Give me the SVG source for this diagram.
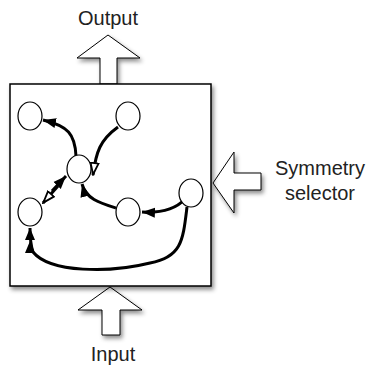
<svg xmlns="http://www.w3.org/2000/svg" width="372" height="366" viewBox="0 0 372 366">
<defs>
<filter id="sh" x="-20%" y="-20%" width="150%" height="150%">
<feDropShadow dx="2" dy="3" stdDeviation="2" flood-color="#000" flood-opacity="0.45"/>
</filter>
<marker id="afill" viewBox="0 0 14 11" refX="13" refY="5.5" markerWidth="14" markerHeight="11" markerUnits="userSpaceOnUse" orient="auto">
<path d="M0,0.5 L13,5.5 L0,10.5 Z" fill="#000"/>
</marker>
<marker id="aopen" viewBox="0 0 14 11" refX="13" refY="5.5" markerWidth="14" markerHeight="11" markerUnits="userSpaceOnUse" orient="auto">
<path d="M1,1.5 L12.5,5.5 L1,9.5 Z" fill="#fff" stroke="#000" stroke-width="1.8"/>
</marker>
<marker id="adbl" viewBox="0 0 26 11" refX="25" refY="5.5" markerWidth="26" markerHeight="11" markerUnits="userSpaceOnUse" orient="auto">
<path d="M0,0.5 L12,5.5 L0,10.5 Z M13,0.5 L25,5.5 L13,10.5 Z" fill="#000"/>
</marker>
</defs>
<style>
.blk{fill:#fff;stroke:#000;stroke-width:1;filter:url(#sh)}
.node ellipse{fill:#fff;stroke:#000;stroke-width:1.2}
.lbl{font-family:"Liberation Sans",Arial,sans-serif;font-size:20px;fill:#222}
.e{fill:none;stroke:#000;stroke-width:3}
</style>
<g id="output-arrow">
<polygon class="blk" points="108,35 140,58 117,58 117,84 100,84 100,58 77,58"/>
<text class="lbl" x="108" y="25" text-anchor="middle">Output</text>
</g>
<g id="input-arrow">
<polygon class="blk" points="110,287 142,310 120,310 120,335 102,335 102,310 78,310"/>
<text class="lbl" x="113" y="361" text-anchor="middle">Input</text>
</g>
<g id="selector-arrow">
<polygon class="blk" points="213,183 234,152 234,173 261,173 261,190 234,190 234,213"/>
<text class="lbl" x="320" y="175" text-anchor="middle">Symmetry</text>
<text class="lbl" x="320" y="200" text-anchor="middle">selector</text>
</g>
<g id="box">
<rect x="10" y="84" width="201" height="202" fill="#fff" stroke="#000" stroke-width="1.5" filter="url(#sh)"/>
</g>
<g id="connectors">
<path class="e" d="M76,156 C75,134 68,126 43,120" marker-end="url(#afill)"/>
<path class="e" d="M118,127 C100,140 96,152 93,175" marker-end="url(#aopen)"/>
<path class="e" d="M116,208 C100,203 86,199 82,184" marker-end="url(#afill)"/>
<path class="e" d="M185,199 C175,210 160,213 142,212" marker-end="url(#afill)"/>
<path class="e" d="M52,191 L66,176" marker-end="url(#afill)"/>
<path class="e" d="M58,186 L43,203" marker-end="url(#aopen)"/>
<path class="e" d="M187,207 C183,240 182,257 150,263 C110,273 50,273 33,252 C31,246 30,238 30,228" marker-end="url(#adbl)"/>
</g>
<g id="n-topleft" class="node"><ellipse cx="30" cy="116" rx="12" ry="14"/></g>
<g id="n-topright" class="node"><ellipse cx="128" cy="116" rx="12" ry="14"/></g>
<g id="n-center" class="node"><ellipse cx="79" cy="169" rx="12" ry="14"/></g>
<g id="n-leftbottom" class="node"><ellipse cx="30" cy="212" rx="12" ry="14"/></g>
<g id="n-midbottom" class="node"><ellipse cx="128" cy="212" rx="12" ry="14"/></g>
<g id="n-right" class="node"><ellipse cx="191" cy="193" rx="12" ry="14"/></g>
</svg>
